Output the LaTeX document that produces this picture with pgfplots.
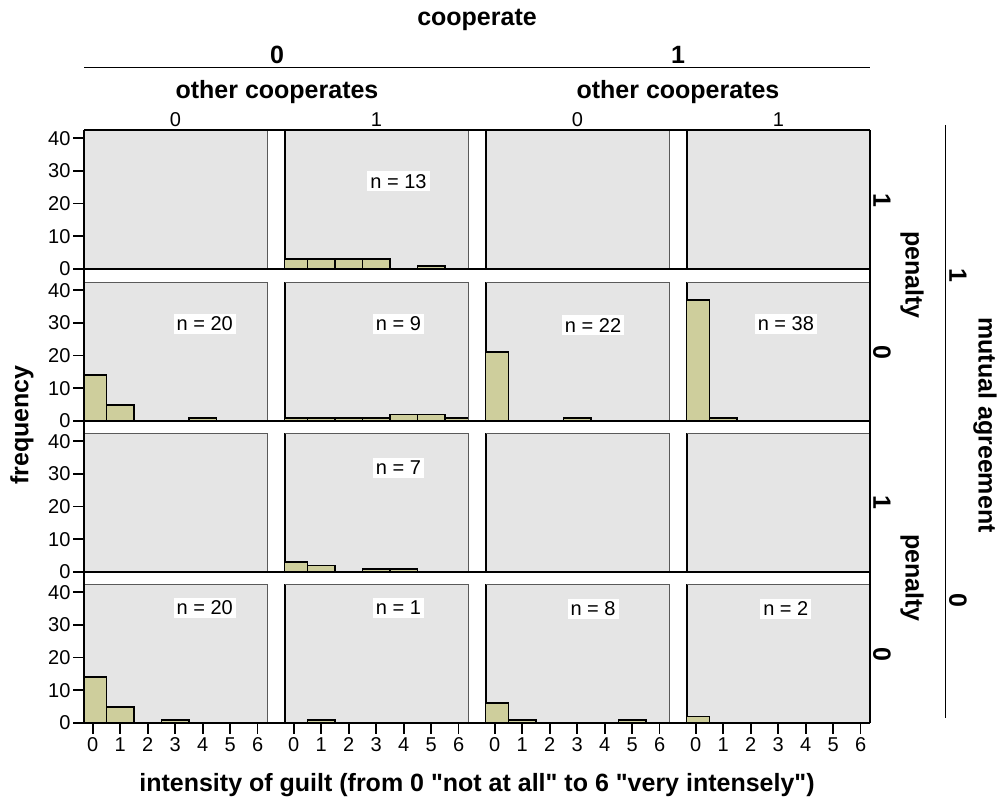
\documentclass[border=0pt]{standalone}
\usepackage{pgfplots}
\pgfplotsset{compat=1.18}
\usepackage{fontspec}
\setmainfont{Liberation Sans}
\definecolor{bgc}{RGB}{229,229,229}
\definecolor{barc}{RGB}{206,206,156}
\definecolor{frc}{RGB}{90,90,90}
\newcommand{\tf}{\fontsize{20bp}{22bp}\selectfont}
\newcommand{\bff}{\fontsize{25bp}{28bp}\selectfont\bfseries}
\tikzset{
  bars/.style={fill=barc, draw=black, line width=1.8bp},
  nlab/.style={fill=white, inner sep=3bp, font=\tf},
}
\pgfplotsset{
  panel/.style={
    scale only axis, width=183bp, height=139bp, anchor=south west,
    xmin=-0.32, xmax=6.34, ymin=0, ymax=42.5,
    axis background/.style={fill=bgc},
    axis x line*=bottom, axis y line*=left,
    axis line style={line width=1.6bp,-,black},
    xtick=\empty, ytick=\empty,
    major tick length=11bp, tick align=outside,
    tick style={line width=1.6bp,black},
    tick label style={font=\tf},
    yticklabel style={xshift=1bp},
    /pgf/number format/assume math mode=true,
    ybar, bar width=1,
    extra description/.code={\draw[frc,line width=0.8bp] (rel axis cs:0,1) -- (rel axis cs:1,1) -- (rel axis cs:1,0);},
  },
}
\begin{document}
\begin{tikzpicture}[x=1bp,y=1bp]
\path[use as bounding box] (0,0) rectangle (1004,803);
% ---------- row 1 (mutual 1, penalty 1) ----------
\begin{axis}[panel, at={(84bp,534bp)}, ytick={0,10,20,30,40}]
\end{axis}
\begin{axis}[panel, at={(285bp,534bp)}]
\addplot[bars] coordinates {(0,3) (1,3) (2,3) (3,3) (5,1)};
\node[nlab] at (rel axis cs:0.62,0.63) {n = 13};
\end{axis}
\begin{axis}[panel, at={(486bp,534bp)}]
\end{axis}
\begin{axis}[panel, at={(687bp,534bp)}]
\end{axis}
% ---------- row 2 (mutual 1, penalty 0) ----------
\begin{axis}[panel, at={(84bp,382bp)}, ytick={0,10,20,30,40}]
\addplot[bars] coordinates {(0,14) (1,5) (4,1)};
\node[nlab] at (rel axis cs:0.66,0.70) {n = 20};
\end{axis}
\begin{axis}[panel, at={(285bp,382bp)}]
\addplot[bars] coordinates {(0,1) (1,1) (2,1) (3,1) (4,2) (5,2) (6,1)};
\node[nlab] at (rel axis cs:0.62,0.70) {n = 9};
\end{axis}
\begin{axis}[panel, at={(486bp,382bp)}]
\addplot[bars] coordinates {(0,21) (3,1)};
\node[nlab] at (rel axis cs:0.585,0.69) {n = 22};
\end{axis}
\begin{axis}[panel, at={(687bp,382bp)}]
\addplot[bars] coordinates {(0,37) (1,1)};
\node[nlab] at (rel axis cs:0.54,0.70) {n = 38};
\end{axis}
% ---------- row 3 (mutual 0, penalty 1) ----------
\begin{axis}[panel, at={(84bp,231bp)}, ytick={0,10,20,30,40}]
\end{axis}
\begin{axis}[panel, at={(285bp,231bp)}]
\addplot[bars] coordinates {(0,3) (1,2) (3,1) (4,1)};
\node[nlab] at (rel axis cs:0.62,0.75) {n = 7};
\end{axis}
\begin{axis}[panel, at={(486bp,231bp)}]
\end{axis}
\begin{axis}[panel, at={(687bp,231bp)}]
\end{axis}
% ---------- row 4 (mutual 0, penalty 0) ----------
\begin{axis}[panel, at={(84bp,80bp)}, ytick={0,10,20,30,40}, xtick={0,...,6}]
\addplot[bars] coordinates {(0,14) (1,5) (3,1)};
\node[nlab] at (rel axis cs:0.66,0.83) {n = 20};
\end{axis}
\begin{axis}[panel, at={(285bp,80bp)}, xtick={0,...,6}]
\addplot[bars] coordinates {(1,1)};
\node[nlab] at (rel axis cs:0.62,0.83) {n = 1};
\end{axis}
\begin{axis}[panel, at={(486bp,80bp)}, xtick={0,...,6}]
\addplot[bars] coordinates {(0,6) (1,1) (5,1)};
\node[nlab] at (rel axis cs:0.585,0.82) {n = 8};
\end{axis}
\begin{axis}[panel, at={(687bp,80bp)}, xtick={0,...,6}]
\addplot[bars] coordinates {(0,2)};
\node[nlab] at (rel axis cs:0.54,0.82) {n = 2};
\end{axis}
% ---------- frame lines ----------
\begin{scope}[line width=1.6bp]
\foreach \yy in {534,382,231,80} {\draw (84,\yy) -- (870,\yy);}
\draw (84,673) -- (870,673);
\draw (870,80) -- (870,673);
\draw (84,80) -- (84,673);
\end{scope}
% ---------- headers ----------
\node[font=\bff] at (477,783) {cooperate};
\node[font=\bff] at (277,748) {0};
\node[font=\bff] at (678,748) {1};
\draw[line width=1bp] (84,735) -- (870,735);
\node[font=\bff] at (277,711) {other cooperates};
\node[font=\bff] at (678,711) {other cooperates};
\node[font=\tf] at (175.5,683) {0};
\node[font=\tf] at (376.5,683) {1};
\node[font=\tf] at (577.5,683) {0};
\node[font=\tf] at (778.5,683) {1};
% ---------- right side ----------
\node[font=\bff, rotate=-90] at (882,603) {1};
\node[font=\bff, rotate=-90] at (882,451) {0};
\node[font=\bff, rotate=-90] at (882,301) {1};
\node[font=\bff, rotate=-90] at (882,149) {0};
\node[font=\bff, rotate=-90] at (912,528) {penalty};
\node[font=\bff, rotate=-90] at (912,225) {penalty};
\draw[line width=1bp] (945,678) -- (945,85);
\node[font=\bff, rotate=-90] at (958,528) {1};
\node[font=\bff, rotate=-90] at (958,203) {0};
\node[font=\bff, rotate=-90] at (985,378) {mutual agreement};
% ---------- left & bottom ----------
\node[font=\bff, rotate=90] at (22,378) {frequency};
\node[font=\bff] at (477,18) {intensity of guilt (from 0 \textquotedbl not at all\textquotedbl\ to 6 \textquotedbl very intensely\textquotedbl)};
\end{tikzpicture}
\end{document}
